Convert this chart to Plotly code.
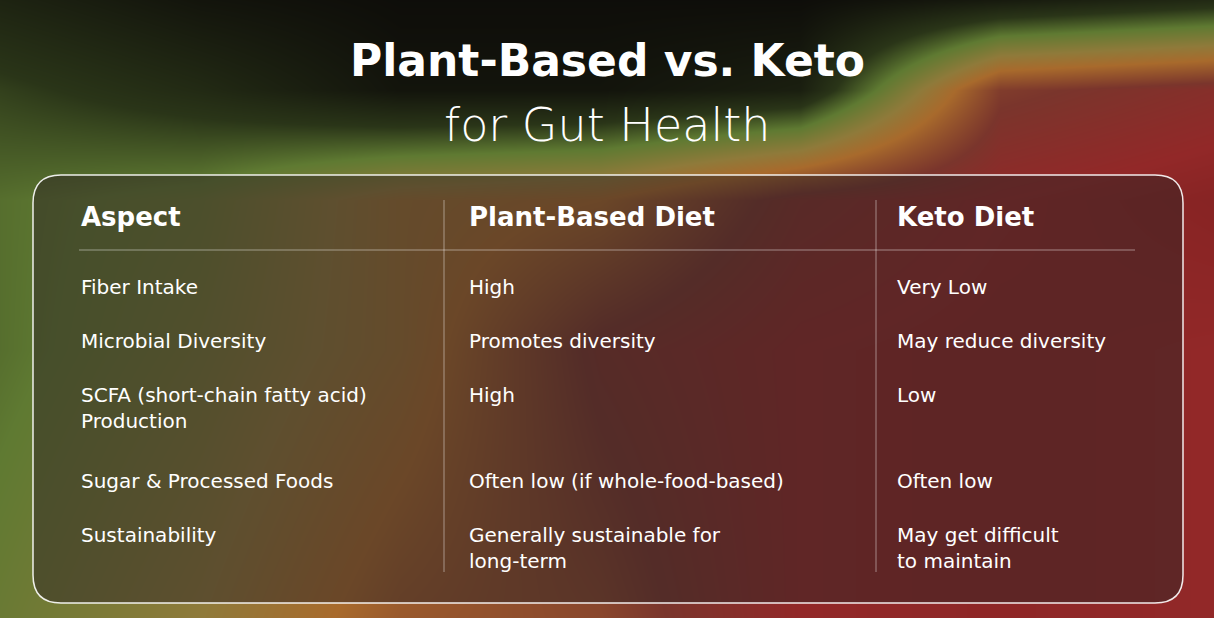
import plotly.graph_objects as go

title_bold = "Plant-Based vs. Keto"
title_light = "for Gut Health"
headers = ["Aspect", "Plant-Based Diet", "Keto Diet"]
aspects = ["Fiber Intake", "Microbial Diversity", "SCFA (short-chain fatty acid)<br>Production",
           "Sugar & Processed Foods", "Sustainability"]
plant = ["High", "Promotes diversity", "High", "Often low (if whole-food-based)",
         "Generally sustainable for<br>long-term"]
keto = ["Very Low", "May reduce diversity", "Low", "Often low", "May get difficult<br>to maintain"]
row_y = [286, 340, 394, 480, 534]

W, H = 1214, 618
col_x = [79, 467, 895]
FONT = "DejaVu Sans"

fig = go.Figure()
bx = [0, 200, 400, 600, 800, 1000, 1214]
by = [0, 90, 200, 350, 618]
bz = [[0.12, 0.05, 0.02, 0.02, 0.02, 0.08, 0.15],
      [0.22, 0.15, 0.05, 0.05, 0.1, 0.68, 0.75],
      [0.3, 0.35, 0.5, 0.55, 0.74, 0.8, 0.85],
      [0.3, 0.38, 0.5, 0.72, 0.8, 0.82, 0.8],
      [0.35, 0.45, 0.6, 0.65, 0.8, 0.82, 0.8]]
fig.add_trace(go.Heatmap(x=bx, y=by, z=bz, zsmooth="best", showscale=False, hoverinfo="skip",
                         zmin=0, zmax=1,
                         colorscale=[[0, "#0b0908"], [0.2, "#2a3518"], [0.32, "#5f7a32"],
                                     [0.45, "#8f7a3a"], [0.55, "#a86a2c"], [0.7, "#7a352c"],
                                     [0.8, "#922828"], [1, "#651616"]]))

x0, x1, y0, y1, r = 33, 1183, 175, 603, 28
path = (f"M{x0+r},{y0} L{x1-r},{y0} Q{x1},{y0} {x1},{y0+r} L{x1},{y1-r} Q{x1},{y1} {x1-r},{y1} "
        f"L{x0+r},{y1} Q{x0},{y1} {x0},{y1-r} L{x0},{y0+r} Q{x0},{y0} {x0+r},{y0} Z")
shapes = [dict(type="path", path=path, xref="x", yref="y", fillcolor="rgba(45,35,35,0.5)",
               line=dict(color="rgba(255,255,255,0.9)", width=1.5), layer="above"),
          dict(type="line", x0=79, x1=1135, y0=250, y1=250, xref="x", yref="y",
               line=dict(color="rgba(255,255,255,0.45)", width=1)),
          dict(type="line", x0=444, x1=444, y0=200, y1=572, xref="x", yref="y",
               line=dict(color="rgba(255,255,255,0.45)", width=1)),
          dict(type="line", x0=876, x1=876, y0=200, y1=572, xref="x", yref="y",
               line=dict(color="rgba(255,255,255,0.45)", width=1))]

ann = [dict(x=W/2, y=60, text=title_bold, font=dict(family=FONT, size=44, color="white", weight=700)),
       dict(x=W/2, y=125, text=title_light, font=dict(family=FONT, size=46, color="white", weight=200))]
for cx, h in zip(col_x, headers):
    ann.append(dict(x=cx, y=217, text=h, xanchor="left",
                    font=dict(family=FONT, size=26, color="white", weight=700)))
for i, y in enumerate(row_y):
    for cx, col in zip(col_x, [aspects, plant, keto]):
        ann.append(dict(x=cx, y=y - 13, text=col[i], xanchor="left", yanchor="top", align="left",
                        font=dict(family=FONT, size=20, color="white", weight=500)))
for a in ann:
    a.update(xref="x", yref="y", showarrow=False)
    a.setdefault("yanchor", "middle")

fig.update_layout(width=W, height=H, margin=dict(l=0, r=0, t=0, b=0),
                  paper_bgcolor="#0b0908", plot_bgcolor="#0b0908",
                  xaxis=dict(range=[0, W], visible=False, fixedrange=True),
                  yaxis=dict(range=[H, 0], visible=False, fixedrange=True),
                  shapes=shapes, annotations=ann, showlegend=False)
fig.write_html("out.html", config={"displayModeBar": False})
with open("out.html", encoding="utf-8") as f:
    html = f.read()
html = html.replace("<head>", "<head><style>html,body{margin:0;padding:0;background:#0b0908;overflow:hidden}</style>", 1)
with open("out.html", "w", encoding="utf-8") as f:
    f.write(html)
